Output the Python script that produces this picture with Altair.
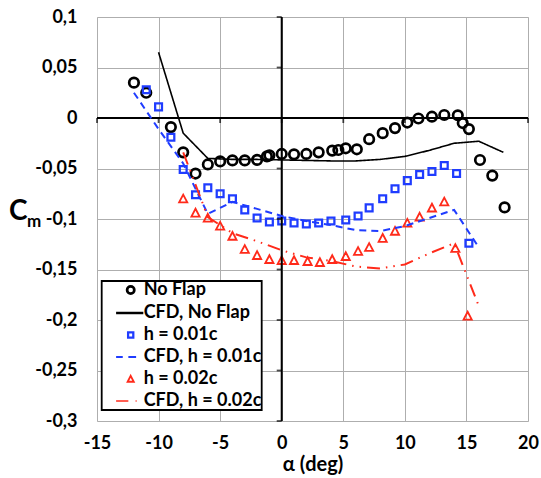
import altair as alt
import pandas as pd

# ---------------- data ----------------
series_names = ["No Flap", "CFD, No Flap", "h = 0.01c", "CFD, h = 0.01c", "h = 0.02c", "CFD, h = 0.02c"]

nf_alpha = [-12, -11, -9, -8, -7, -6, -5, -4, -3, -2, -1.2, -1, 0, 1, 2, 3, 4.1, 4.6, 5.2, 6.1,
            7.1, 8.2, 9.2, 10.2, 11.1, 12.2, 13.2, 14.3, 14.7, 15.2, 16.1, 17.1, 18.1]
nf_cm = [0.035, 0.025, -0.009, -0.034, -0.055, -0.046, -0.043, -0.042, -0.042, -0.0415, -0.038,
         -0.037, -0.0356, -0.036, -0.0356, -0.034, -0.0323, -0.0317, -0.030, -0.031, -0.021,
         -0.015, -0.010, -0.0045, -0.0005, 0.0013, 0.003, 0.0027, -0.005, -0.011, -0.0416,
         -0.057, -0.0885]

h1_alpha = [-11, -10, -9, -8, -7, -6, -5, -4, -3, -2, -1, 0, 1, 2, 3, 4, 5.2, 6.2, 7.1, 8.2,
            9.2, 10.2, 11.2, 12.2, 13.2, 14.2, 15.2]
h1_cm = [0.028, 0.011, -0.019, -0.051, -0.076, -0.069, -0.075, -0.080, -0.091, -0.099, -0.103,
         -0.102, -0.104, -0.105, -0.104, -0.102, -0.101, -0.097, -0.089, -0.080, -0.070, -0.062,
         -0.056, -0.053, -0.047, -0.055, -0.124]

h2_alpha = [-8, -7, -6, -5, -4, -3, -2, -1, 0, 1, 2.1, 3.1, 4.1, 5.2, 6.2, 7.1, 8.2, 9.2, 10.2,
            11.2, 12.2, 13.2, 14.1, 15.1]
h2_cm = [-0.080, -0.094, -0.099, -0.107, -0.117, -0.130, -0.136, -0.140, -0.141, -0.141, -0.142,
         -0.143, -0.140, -0.137, -0.132, -0.128, -0.119, -0.112, -0.104, -0.098, -0.089, -0.083,
         -0.129, -0.196]

cfd_nf_alpha = [-10, -8, -6, -4, -2, 0, 2, 4, 6, 8, 10, 12, 14, 16, 18]
cfd_nf_cm = [0.065, -0.015, -0.040, -0.041, -0.041, -0.0415, -0.042, -0.0425, -0.0425, -0.041,
             -0.038, -0.032, -0.025, -0.023, -0.034]

cfd_h1_alpha = [-12, -10, -8, -6, -4, -2, 0, 2, 4, 6, 8, 10, 12, 14, 16]
cfd_h1_cm = [0.025, -0.011, -0.045, -0.095, -0.083, -0.090, -0.097, -0.102, -0.106, -0.111,
             -0.112, -0.107, -0.099, -0.091, -0.128]

cfd_h2_alpha = [-8, -6, -4, -2, 0, 2, 4, 6, 8, 10, 12, 14, 16]
cfd_h2_cm = [-0.034, -0.098, -0.114, -0.122, -0.131, -0.138, -0.1415, -0.147, -0.149, -0.145,
             -0.134, -0.124, -0.186]

x_ticks = [-15, -10, -5, 0, 5, 10, 15, 20]
y_ticks = [0.1, 0.05, 0, -0.05, -0.1, -0.15, -0.2, -0.25, -0.3]
y_title_main = ["C"]
y_title_sub = ["m"]

# ---------------- styling ----------------
BLACK = "#000000"
BLUE = "#1f3cff"
RED = "#ff2a1a"
GRID = "#aeaeae"
FONT = "Lato"

# custom symbol paths (unit = sqrt(size)/2)
P_SQUARE = "M-0.72,-0.72L0.72,-0.72L0.72,0.72L-0.72,0.72Z"
P_TRI = "M0,-0.88L0.86,0.76L-0.86,0.76Z"
P_SOLID = "M-4.05,0L3.5,0"
P_DASH = "M-4.05,0L-2.2,0M-0.65,0L1.5,0"
P_DASHDOT = "M-4.05,0L-0.65,0M1.35,0L1.65,0"

exp = pd.concat([
    pd.DataFrame({"series": series_names[0], "alpha": nf_alpha, "cm": nf_cm}),
    pd.DataFrame({"series": series_names[2], "alpha": h1_alpha, "cm": h1_cm}),
    pd.DataFrame({"series": series_names[4], "alpha": h2_alpha, "cm": h2_cm}),
], ignore_index=True)

cfd = pd.concat([
    pd.DataFrame({"series": series_names[1], "alpha": cfd_nf_alpha, "cm": cfd_nf_cm}),
    pd.DataFrame({"series": series_names[3], "alpha": cfd_h1_alpha, "cm": cfd_h1_cm}),
    pd.DataFrame({"series": series_names[5], "alpha": cfd_h2_alpha, "cm": cfd_h2_cm}),
], ignore_index=True)

xscale = alt.Scale(domain=[-15, 20], nice=False, zero=False)
yscale = alt.Scale(domain=[-0.3, 0.1], nice=False, zero=False)
lab_expr = "replace(toString(datum.value), '.', ',')"

xaxis = alt.Axis(values=x_ticks, grid=True, gridColor=GRID, gridWidth=1, domain=False,
                 ticks=False, labelExpr=lab_expr, labelFont=FONT, labelFontSize=18,
                 labelFontWeight="bold", labelColor="black", labelPadding=13,
                 labelFlush=False, labelOverlap=False,
                 title="α (deg)", titleFont=FONT, titleFontSize=20, titleFontWeight="bold",
                 titleColor="black", titleBaseline="alphabetic", titleY=49)
yaxis = alt.Axis(values=y_ticks, grid=True, gridColor=GRID, gridWidth=1, domain=False,
                 ticks=False, labelExpr=lab_expr, labelFont=FONT, labelFontSize=18,
                 labelFontWeight="bold", labelColor="black", labelPadding=20,
                 labelFlush=False, labelOverlap=False, title="")

legend = alt.Legend(title=None, orient="none", legendX=4.7, legendY=264,
                    fillColor="white", strokeColor="black", padding=0,
                    symbolOffset=20, labelOffset=4, rowPadding=4,
                    labelFont=FONT, labelFontSize=18, labelFontWeight="bold",
                    labelColor="black", symbolSize=52, symbolStrokeWidth=1.9,
                    labelLimit=300)

points = alt.Chart(exp).mark_point(filled=False, opacity=1, size=90).encode(
    x=alt.X("alpha:Q", scale=xscale, axis=xaxis),
    y=alt.Y("cm:Q", scale=yscale, axis=yaxis),
    color=alt.Color("series:N", scale=alt.Scale(domain=series_names,
                    range=[BLACK, BLACK, BLUE, BLUE, RED, RED]), legend=legend),
    shape=alt.Shape("series:N", scale=alt.Scale(domain=series_names,
                    range=["circle", P_SOLID, P_SQUARE, P_DASH, P_TRI, P_DASHDOT]),
                    legend=legend),
    strokeWidth=alt.StrokeWidth("series:N", scale=alt.Scale(domain=series_names,
                                range=[2.7, 1.6, 2.4, 2, 1.8, 2]), legend=None),
)

def cfd_line(name, color, dash, width):
    return alt.Chart(cfd).transform_filter(alt.datum.series == name).mark_line(
        color=color, strokeDash=dash, strokeWidth=width
    ).encode(
        x=alt.X("alpha:Q", scale=xscale, axis=xaxis),
        y=alt.Y("cm:Q", scale=yscale, axis=yaxis),
        order="alpha:Q",
    )

line_nf = cfd_line(series_names[1], BLACK, [1, 0], 1.6)
line_h1 = cfd_line(series_names[3], BLUE, [7, 5], 2)
line_h2 = cfd_line(series_names[5], RED, [13, 6, 1.5, 6, 1.5, 6], 2)

xt = pd.DataFrame({"alpha": x_ticks, "cm": [0] * len(x_ticks)})
yt = pd.DataFrame({"cm": y_ticks, "alpha": [0] * len(y_ticks)})

x_zero = alt.Chart(xt.head(1)).mark_rule(color="black", strokeWidth=2).encode(
    y=alt.Y("cm:Q", scale=yscale, axis=yaxis))
y_zero = alt.Chart(yt.head(1)).mark_rule(color="black", strokeWidth=2).encode(
    x=alt.X("alpha:Q", scale=xscale, axis=xaxis))

x_tk = alt.Chart(xt).mark_tick(orient="vertical", size=5, thickness=1.8, color="black",
                               yOffset=2.5).encode(
    x=alt.X("alpha:Q", scale=xscale, axis=xaxis), y=alt.Y("cm:Q", scale=yscale, axis=yaxis))
y_tk = alt.Chart(yt).mark_tick(orient="horizontal", size=5, thickness=1.8, color="black",
                               xOffset=-2.5).encode(
    y=alt.Y("cm:Q", scale=yscale, axis=yaxis), x=alt.X("alpha:Q", scale=xscale, axis=xaxis))

t_main = alt.Chart(pd.DataFrame({"t": y_title_main})).mark_text(
    align="left", baseline="alphabetic", font=FONT, fontSize=28, fontWeight="bold",
    color="black").encode(text="t:N", x=alt.value(-88), y=alt.value(203))
t_sub = alt.Chart(pd.DataFrame({"t": y_title_sub})).mark_text(
    align="left", baseline="alphabetic", font=FONT, fontSize=17, fontWeight="bold",
    color="black").encode(text="t:N", x=alt.value(-70), y=alt.value(210))

base = alt.layer(
    points, x_zero, y_zero, x_tk, y_tk, line_nf, line_h1, line_h2, t_main, t_sub
).properties(
    width=431, height=404,
    autosize=alt.AutoSizeParams(type="none"),
    padding={"left": 97, "top": 17, "right": 13, "bottom": 57},
)

chart = base.configure_view(stroke=None).configure(background="white")
try:
    trial = chart.configure_legend(strokeWidth=1.8)
    trial.to_dict()
    chart = trial
except Exception:
    pass

chart.save("out.html", embed_options={"renderer": "svg", "actions": False})
